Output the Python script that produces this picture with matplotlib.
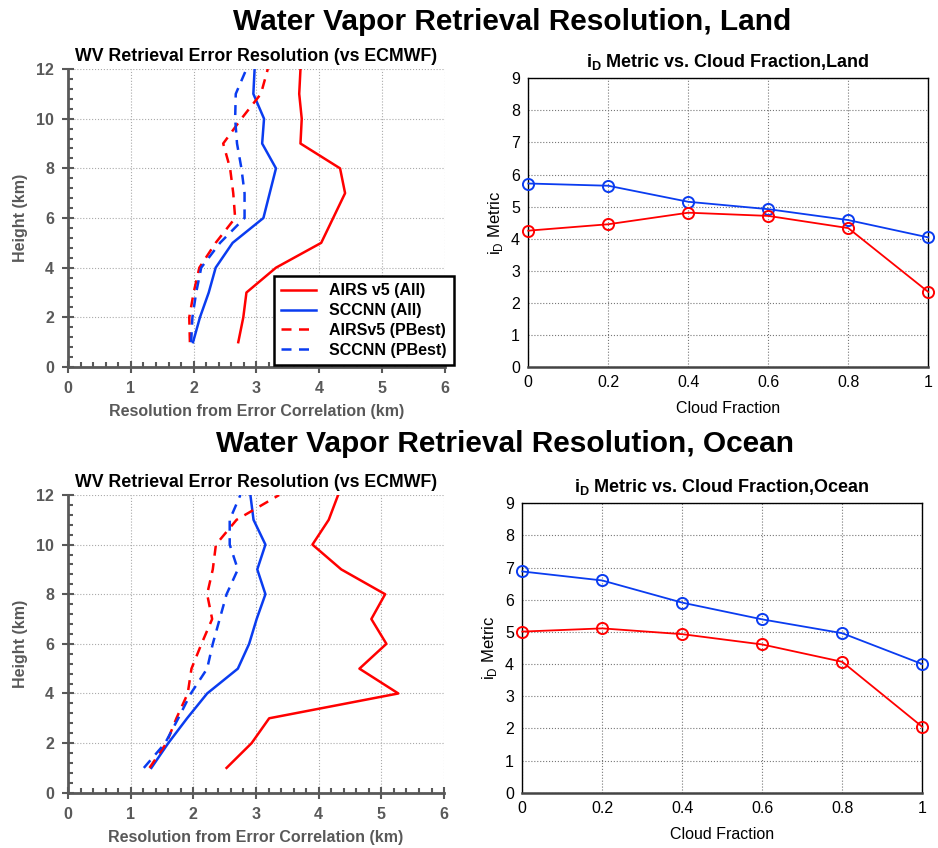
import numpy as np
import matplotlib.pyplot as plt
from matplotlib.ticker import MultipleLocator

plt.rcParams['font.family'] = ['Liberation Sans', 'DejaVu Sans']
plt.rcParams['mathtext.fontset'] = 'custom'
plt.rcParams['mathtext.rm'] = 'Liberation Sans'
plt.rcParams['mathtext.bf'] = 'Liberation Sans:bold'

# heights (km)
height = [1, 2, 3, 4, 5, 6, 7, 8, 9, 10, 11, 12]

# land profiles (resolution, km)
land_airs_all = [2.71, 2.79, 2.84, 3.31, 4.03, 4.22, 4.41, 4.33, 3.70, 3.72, 3.68, 3.70]
land_sccnn_all = [1.99, 2.10, 2.24, 2.35, 2.62, 3.11, 3.21, 3.31, 3.09, 3.12, 2.95, 2.97]
land_airs_pb = [1.94, 1.93, 2.00, 2.09, 2.35, 2.66, 2.63, 2.58, 2.47, 2.76, 3.07, 3.18]
land_sccnn_pb = [1.96, 1.98, 2.04, 2.12, 2.42, 2.81, 2.81, 2.76, 2.69, 2.66, 2.67, 2.84]

# ocean profiles (resolution, km)
ocean_airs_all = [2.53, 2.93, 3.21, 5.27, 4.65, 5.08, 4.84, 5.06, 4.36, 3.90, 4.16, 4.31]
ocean_sccnn_all = [1.33, 1.60, 1.90, 2.22, 2.71, 2.89, 3.01, 3.15, 3.02, 3.15, 2.96, 2.91]
ocean_airs_pb = [1.30, 1.57, 1.73, 1.91, 1.97, 2.13, 2.30, 2.22, 2.31, 2.36, 2.69, 3.37]
ocean_sccnn_pb = [1.21, 1.55, 1.76, 1.96, 2.22, 2.31, 2.42, 2.53, 2.71, 2.58, 2.58, 2.75]

# iD metric vs cloud fraction
cloud_frac = [0, 0.2, 0.4, 0.6, 0.8, 1.0]
land_id_sccnn = [5.72, 5.65, 5.15, 4.92, 4.58, 4.04]
land_id_airs = [4.25, 4.45, 4.81, 4.71, 4.33, 2.34]
ocean_id_sccnn = [6.88, 6.60, 5.91, 5.39, 4.96, 4.00]
ocean_id_airs = [5.01, 5.11, 4.93, 4.61, 4.07, 2.05]

RED = '#ff0000'
BLUE = '#0a3cf0'
GRAY = '#595959'

fig = plt.figure(figsize=(9.38, 8.48), dpi=100)


def profile_panel(ax, a_all, s_all, a_pb, s_pb, legend=False):
    ax.plot(a_all, height, color=RED, lw=1.8, label='AIRS v5 (All)')
    ax.plot(s_all, height, color=BLUE, lw=1.8, label='SCCNN (All)')
    ax.plot(a_pb, height, color=RED, lw=1.8, ls=(0, (4, 3)), label='AIRSv5 (PBest)')
    ax.plot(s_pb, height, color=BLUE, lw=1.8, ls=(0, (4, 3)), label='SCCNN (PBest)')
    ax.set_xlim(0, 6)
    ax.set_ylim(0, 12)
    ax.set_xticks(range(0, 7))
    ax.set_yticks(range(0, 13, 2))
    ax.xaxis.set_minor_locator(MultipleLocator(0.2))
    ax.yaxis.set_minor_locator(MultipleLocator(0.4))
    ax.grid(True, which='major', color='#aaaaaa', ls=':', lw=0.8)
    for s in ['top', 'right']:
        ax.spines[s].set_visible(False)
    for s in ['left', 'bottom']:
        ax.spines[s].set_color(GRAY)
        ax.spines[s].set_linewidth(2.0)
    ax.tick_params(which='major', direction='inout', length=8, width=1.5, color=GRAY,
                   labelsize=11.5, labelcolor=GRAY, pad=6)
    ax.tick_params(which='minor', direction='in', length=3.5, width=1.5, color=GRAY)
    for lab in ax.get_xticklabels() + ax.get_yticklabels():
        lab.set_fontweight('bold')
    ax.set_xlabel('Resolution from Error Correlation (km)', fontsize=11.5,
                  fontweight='bold', color=GRAY, labelpad=6)
    ax.set_ylabel('Height (km)', fontsize=11.5, fontweight='bold', color=GRAY, labelpad=6)
    ax.set_title('WV Retrieval Error Resolution (vs ECMWF)', fontsize=12.8,
                 fontweight='bold', pad=6)
    if legend:
        leg = ax.legend(loc='upper left', bbox_to_anchor=(0.546, 0.305), fancybox=False,
                        framealpha=1, edgecolor='black', handlelength=2.2,
                        prop={'weight': 'bold', 'size': 11.5}, borderpad=0.45,
                        labelspacing=0.3, borderaxespad=0)
        leg.get_frame().set_linewidth(1.8)


def metric_panel(ax, sccnn, airs, place):
    ax.plot(cloud_frac, sccnn, color=BLUE, lw=1.3, marker='o', ms=8, mfc='none',
            mew=1.4, clip_on=False, zorder=3)
    ax.plot(cloud_frac, airs, color=RED, lw=1.3, marker='o', ms=8, mfc='none',
            mew=1.4, clip_on=False, zorder=3)
    ax.set_xlim(0, 1)
    ax.set_ylim(0, 9)
    ax.set_xticks(cloud_frac)
    ax.set_xticklabels(['0', '0.2', '0.4', '0.6', '0.8', '1'])
    ax.set_yticks(range(0, 10))
    ax.grid(True, color='#777777', ls=':', lw=0.8)
    for s in ax.spines.values():
        s.set_linewidth(1.0)
        s.set_color('black')
    ax.spines['bottom'].set_linewidth(1.8)
    ax.spines['bottom'].set_color('#444444')
    ax.tick_params(length=0, labelsize=11.5, pad=6)
    ax.set_xlabel('Cloud Fraction', fontsize=11.5, labelpad=8)
    ax.set_ylabel(r'i$_\mathregular{D}$ Metric', fontsize=12, labelpad=4)
    ax.set_title(r'i$_\mathbf{D}$ Metric vs. Cloud Fraction,' + place, fontsize=13,
                 fontweight='bold', pad=8)


ax1 = fig.add_axes([0.0725, 0.5672, 0.4019, 0.3514])
profile_panel(ax1, land_airs_all, land_sccnn_all, land_airs_pb, land_sccnn_pb, legend=True)

ax2 = fig.add_axes([0.5632, 0.5672, 0.4264, 0.3405])
metric_panel(ax2, land_id_sccnn, land_id_airs, 'Land')

ax3 = fig.add_axes([0.0725, 0.0652, 0.4009, 0.3511])
profile_panel(ax3, ocean_airs_all, ocean_sccnn_all, ocean_airs_pb, ocean_sccnn_pb)

ax4 = fig.add_axes([0.5568, 0.0652, 0.4264, 0.3413])
metric_panel(ax4, ocean_id_sccnn, ocean_id_airs, 'Ocean')

fig.text(0.546, 0.974, 'Water Vapor Retrieval Resolution, Land', ha='center', va='center',
         fontsize=21.5, fontweight='bold')
fig.text(0.538, 0.476, 'Water Vapor Retrieval Resolution, Ocean', ha='center', va='center',
         fontsize=21.5, fontweight='bold')

fig.savefig('out.png', dpi=100)
